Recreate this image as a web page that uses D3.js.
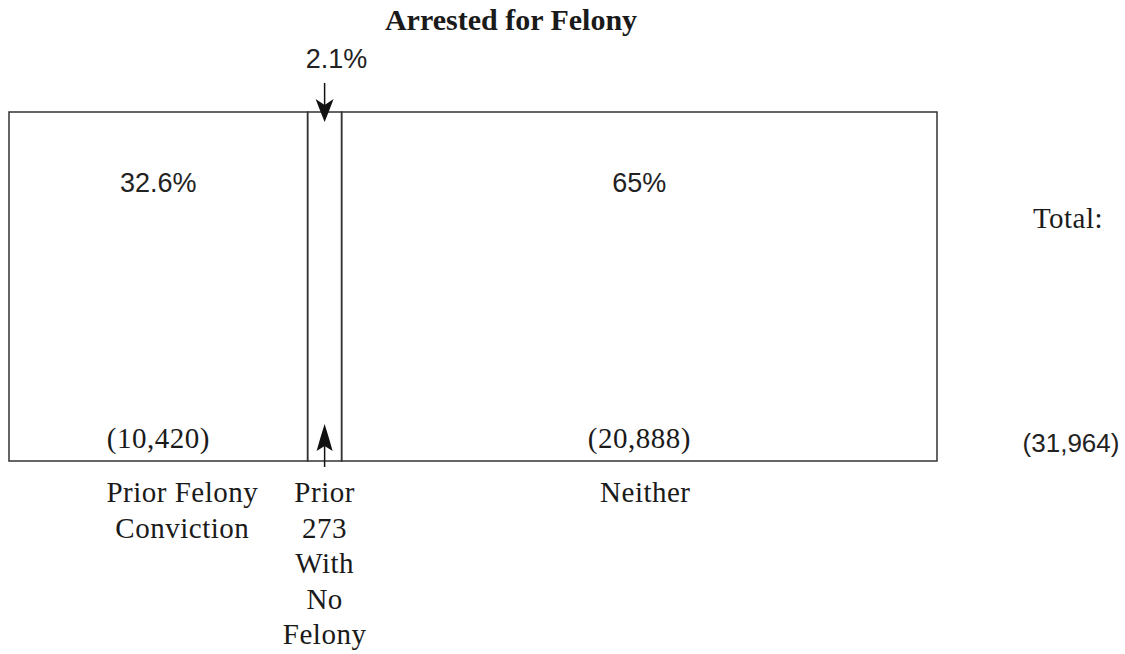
<!DOCTYPE html>
<html>
  <head>
    <meta charset="utf-8">
    <title>Arrested for Felony</title>
    <script src="https://cdn.jsdelivr.net/npm/d3@7"></script>
    <style>
      body { margin: 0; background: #fff; }
      svg { display: block; }
      .serif { font-family: "Liberation Serif", "Times New Roman", serif; fill: #1a1a1a; }
      .sans { font-family: "Liberation Sans", Arial, sans-serif; fill: #222; }
    </style>
  </head>

  <body>
    <svg id="chart" width="1125" height="654"></svg>

    <script>
      // data
      const title = "Arrested for Felony";
      const segmentLines = [["Prior Felony", "Conviction"], ["Prior", "273", "With", "No", "Felony"], ["Neither"]];
      const shares = [32.6, 2.1, 65];
      const counts = [10420, null, 20888];
      const totalLabel = "Total:";
      const total = 31964;

      // layout
      const svg = d3.select("#chart");
      const boxLeft = 9, boxRight = 937, boxTop = 112, boxBottom = 461;
      const minW = 34; // narrow slices get at least this width so they stay visible
      const small = shares.map(d => d < 5);
      const bigSum = d3.sum(shares.filter((d, i) => !small[i]));
      const w = d3.scaleLinear()
        .domain([0, bigSum])
        .range([0, (boxRight - boxLeft) - minW * small.filter(Boolean).length]);
      const widths = shares.map((d, i) => small[i] ? minW : w(d));
      const x0 = widths.map((d, i) => boxLeft + d3.sum(widths.slice(0, i)));
      const mid = x0.map((d, i) => d + widths[i] / 2);
      const fmt = d3.format(",");

      // title
      svg.append("text")
        .attr("class", "serif")
        .attr("x", 511).attr("y", 30)
        .attr("text-anchor", "middle")
        .style("font-size", "30px").style("font-weight", "bold")
        .text(title);

      // segments
      svg.selectAll(".seg")
        .data(shares)
        .enter().append("rect")
          .attr("class", "seg")
          .attr("x", (d, i) => x0[i])
          .attr("y", boxTop)
          .attr("width", (d, i) => widths[i])
          .attr("height", boxBottom - boxTop)
          .attr("fill", "none")
          .attr("stroke", "#333")
          .attr("stroke-width", 1.5);

      // percentages inside the big segments
      svg.selectAll(".pct")
        .data(shares.map((d, i) => ({ v: d, i: i })).filter(d => !small[d.i]))
        .enter().append("text")
          .attr("class", "sans")
          .attr("x", d => mid[d.i])
          .attr("y", 192)
          .attr("text-anchor", "middle")
          .style("font-size", "27px")
          .text(d => d.v + "%");

      // counts
      svg.selectAll(".count")
        .data(counts.map((d, i) => ({ v: d, i: i })).filter(d => d.v != null))
        .enter().append("text")
          .attr("class", "serif")
          .attr("x", d => mid[d.i])
          .attr("y", 448)
          .attr("text-anchor", "middle")
          .style("font-size", "29px")
          .style("letter-spacing", "0.5px")
          .text(d => "(" + fmt(d.v) + ")");

      // small slice: arrows and callout
      small.forEach((s, i) => {
        if (!s) return;
        const cx = mid[i];
        svg.append("text")
          .attr("class", "sans")
          .attr("x", cx + 12).attr("y", 68)
          .attr("text-anchor", "middle")
          .style("font-size", "27px")
          .text(shares[i] + "%");
        svg.append("line")
          .attr("x1", cx).attr("x2", cx)
          .attr("y1", 83).attr("y2", 110)
          .attr("stroke", "#111").attr("stroke-width", 1.5);
        svg.append("path")
          .attr("d", `M${cx - 9},99 L${cx},105 L${cx + 9},99 L${cx + 4},112 L${cx},122 L${cx - 4},112 Z`)
          .attr("fill", "#111");
        svg.append("line")
          .attr("x1", cx).attr("x2", cx)
          .attr("y1", 440).attr("y2", 467)
          .attr("stroke", "#111").attr("stroke-width", 1.5);
        svg.append("path")
          .attr("d", `M${cx - 8},451 L${cx},446 L${cx + 8},451 L${cx + 4},437 L${cx},424 L${cx - 4},437 Z`)
          .attr("fill", "#111");
      });

      // category labels under the box
      const labelDx = [24, 0, 6];
      segmentLines.forEach((lines, i) => {
        const t = svg.append("text")
          .attr("class", "serif")
          .attr("text-anchor", "middle")
          .style("font-size", "29px")
          .style("letter-spacing", "0.5px");
        lines.forEach((ln, j) => {
          t.append("tspan")
            .attr("x", mid[i] + labelDx[i])
            .attr("y", 502 + j * 35.5)
            .text(ln);
        });
      });

      // total
      svg.append("text")
        .attr("class", "serif")
        .attr("x", 1068).attr("y", 228)
        .attr("text-anchor", "middle")
        .style("font-size", "29px")
        .style("letter-spacing", "0.5px")
        .text(totalLabel);
      svg.append("text")
        .attr("class", "sans")
        .attr("x", 1071).attr("y", 452)
        .attr("text-anchor", "middle")
        .style("font-size", "26px")
        .text("(" + fmt(total) + ")");
    </script>
  </body>
</html>
